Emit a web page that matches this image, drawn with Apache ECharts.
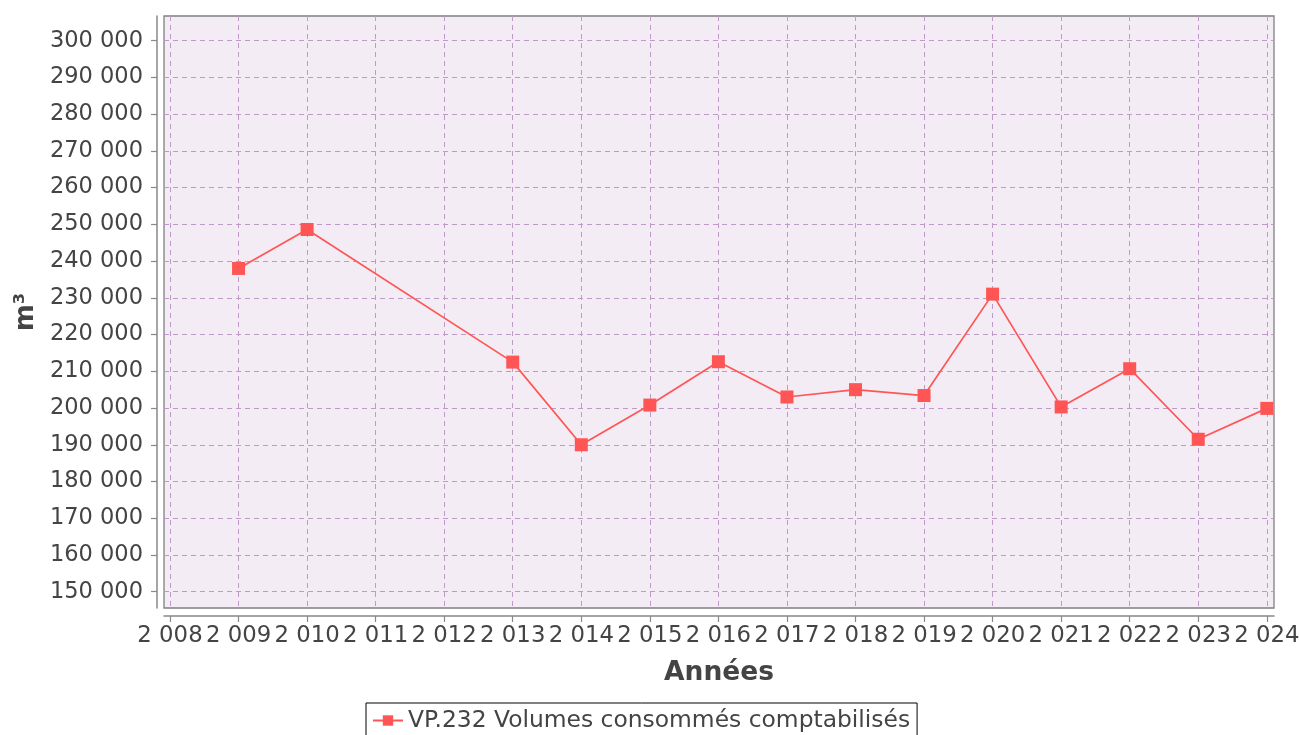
<!DOCTYPE html>
<html>
<head>
<meta charset="utf-8">
<script src="https://cdn.jsdelivr.net/npm/echarts@6/dist/echarts.min.js"></script>
<style>
  html, body { margin: 0; padding: 0; background: #ffffff; }
  #chart { width: 1299px; height: 735px; }
</style>
</head>
<body>
<div id="chart"></div>
<script>
// ---- data ----
const years = [2009, 2010, 2013, 2014, 2015, 2016, 2017, 2018, 2019, 2020, 2021, 2022, 2023, 2024];
const volumes = [238000, 248600, 212500, 190000, 200800, 212600, 203000, 205000, 203400, 231000, 200300, 210700, 191500, 199900];
const xTickValues = [2008, 2009, 2010, 2011, 2012, 2013, 2014, 2015, 2016, 2017, 2018, 2019, 2020, 2021, 2022, 2023, 2024];
const yTickValues = [150000, 160000, 170000, 180000, 190000, 200000, 210000, 220000, 230000, 240000, 250000, 260000, 270000, 280000, 290000, 300000];
const seriesName = 'VP.232 Volumes consommés comptabilisés';
const xTitle = 'Années';
const yTitle = 'm³';

function fmt(v) {
  return String(Math.round(v)).replace(/\B(?=(\d{3})+(?!\d))/g, ' ');
}

const FONT = 'DejaVu Sans';
const gridLine = { show: true, lineStyle: { color: '#bf9ac8', type: [5, 4], width: 1 } };

const chart = echarts.init(document.getElementById('chart'), null, { renderer: 'canvas' });
chart.setOption({
  animation: false,
  backgroundColor: '#ffffff',
  textStyle: { fontFamily: FONT },
  grid: {
    left: 164, right: 25, top: 16, bottom: 127,
    outerBoundsMode: 'none',
    containLabel: false,
    show: true, backgroundColor: '#f3ecf4', borderColor: '#808080', borderWidth: 1.3
  },
  legend: {
    left: 366, top: 703,
    padding: [6, 7, 30, 6],
    borderColor: '#000', borderWidth: 1,
    itemWidth: 30, itemHeight: 13, itemGap: 10,
    textStyle: { fontFamily: FONT, fontSize: 23.4, color: '#444' },
    data: [seriesName]
  },
  xAxis: {
    type: 'value',
    min: 2007.9125, max: 2024.105,
    offset: 8,
    name: xTitle, nameLocation: 'middle', nameGap: 44,
    nameTextStyle: { fontFamily: FONT, fontSize: 26.5, fontWeight: 'bold', color: '#444' },
    axisLine: { show: true, onZero: false, lineStyle: { color: '#888', width: 1.5 } },
    axisTick: { show: true, customValues: xTickValues, length: 6, lineStyle: { color: '#888', width: 1.2 } },
    axisLabel: { customValues: xTickValues, formatter: fmt, fontFamily: FONT, fontSize: 22.8, color: '#444', margin: 9, hideOverlap: false },
    splitLine: gridLine
  },
  yAxis: {
    type: 'value',
    min: 145560, max: 306720,
    offset: 7,
    name: yTitle, nameLocation: 'middle', nameGap: 116, nameRotate: 90,
    nameTextStyle: { fontFamily: FONT, fontSize: 26, fontWeight: 'bold', color: '#444' },
    axisLine: { show: true, onZero: false, lineStyle: { color: '#888', width: 1.5 } },
    axisTick: { show: true, customValues: yTickValues, length: 6, lineStyle: { color: '#888', width: 1.2 } },
    axisLabel: { customValues: yTickValues, formatter: fmt, fontFamily: FONT, fontSize: 22.5, color: '#444', margin: 14 },
    splitLine: gridLine
  },
  series: [{
    name: seriesName,
    type: 'line',
    data: years.map((y, i) => [y, volumes[i]]),
    symbol: 'rect',
    symbolSize: 13,
    showAllSymbol: true,
    clip: false,
    lineStyle: { color: '#ff5555', width: 1.7 },
    itemStyle: { color: '#ff5555' }
  }]
});
</script>
</body>
</html>
